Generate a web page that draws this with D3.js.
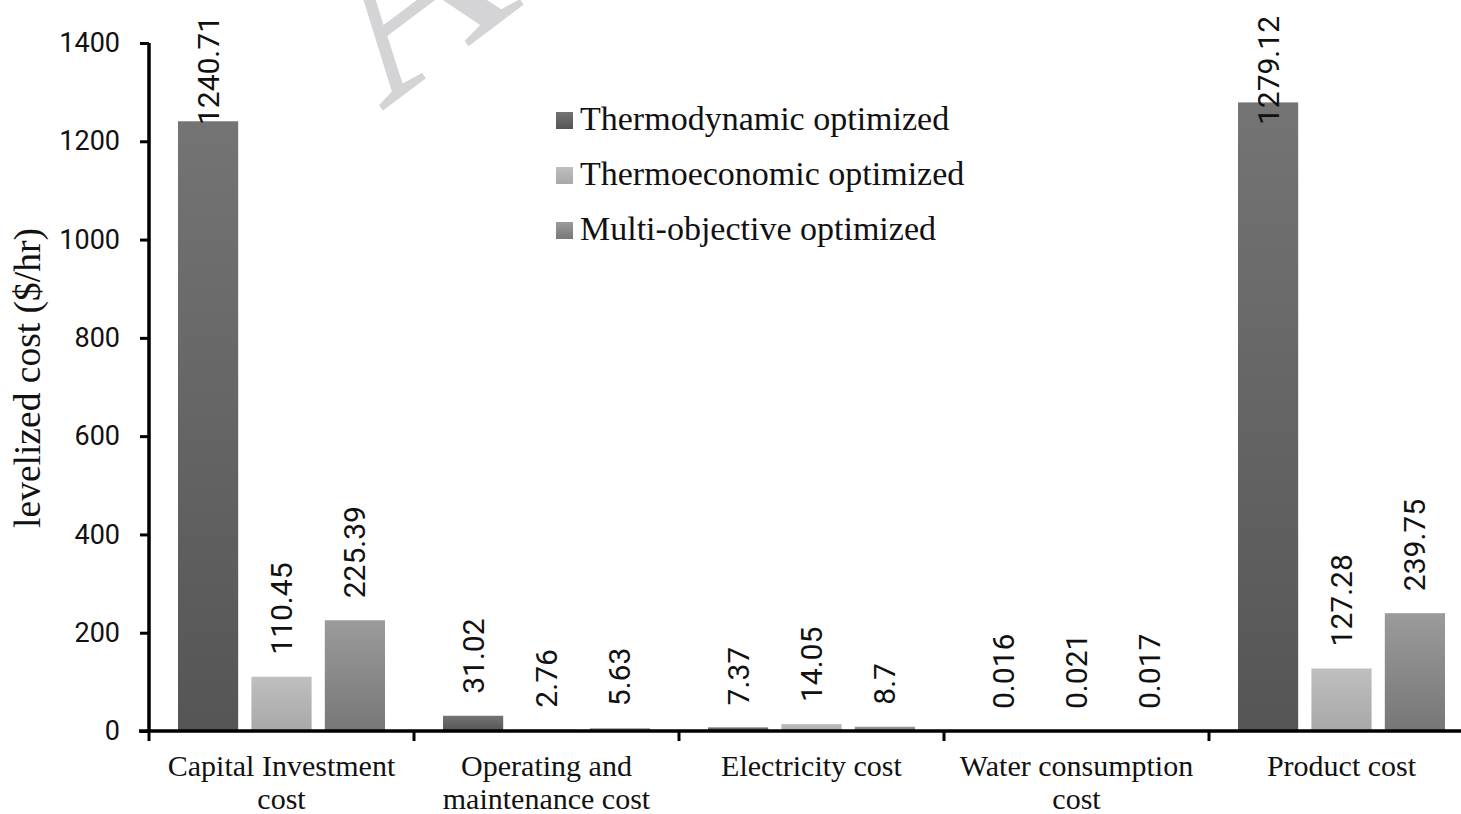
<!DOCTYPE html>
<html>
<head>
<meta charset="utf-8">
<script src="https://cdn.jsdelivr.net/npm/d3@7"></script>
<style>
html,body{margin:0;padding:0;background:#fff;}
svg{display:block;}
</style>
</head>
<body>
<svg id="chart" width="1461" height="814"></svg>
<script>
const categories = [
  ["Capital Investment", "cost"],
  ["Operating and", "maintenance cost"],
  ["Electricity cost"],
  ["Water consumption", "cost"],
  ["Product cost"]
];
const seriesNames = ["Thermodynamic optimized", "Thermoeconomic optimized", "Multi-objective optimized"];
const thermodynamic = [1240.71, 31.02, 7.37, 0.016, 1279.12];
const thermoeconomic = [110.45, 2.76, 14.05, 0.021, 127.28];
const multiObjective = [225.39, 5.63, 8.7, 0.017, 239.75];
const valueLabels = [
  ["1240.71", "31.02", "7.37", "0.016", "1279.12"],
  ["110.45", "2.76", "14.05", "0.021", "127.28"],
  ["225.39", "5.63", "8.7", "0.017", "239.75"]
];
const yTicks = [0, 200, 400, 600, 800, 1000, 1200, 1400];
const yTitle = "levelized cost ($/hr)";
const watermark = "ACCEPTED MANUSCRIPT";

const seriesValues = [thermodynamic, thermoeconomic, multiObjective];
const gradStops = [["#747474", "#555555"], ["#bfbfbf", "#a8a8a8"], ["#9b9b9b", "#777777"]];

const svg = d3.select("#chart");
const defs = svg.append("defs");
gradStops.forEach((g, i) => {
  const lg = defs.append("linearGradient").attr("id", "g" + i)
    .attr("x1", 0).attr("y1", 0).attr("x2", 0).attr("y2", 1);
  lg.append("stop").attr("offset", "0%").attr("stop-color", g[0]);
  lg.append("stop").attr("offset", "100%").attr("stop-color", g[1]);
});

// watermark
svg.append("text")
  .attr("transform", "translate(381,112) rotate(-37)")
  .attr("font-family", "Liberation Serif, Times New Roman, serif")
  .attr("font-size", 250)
  .attr("fill", "#d4d4d6")
  .text(watermark);

const pLeft = 149, pBottom = 731, pTop = 43, pRight = 1474;
const y = d3.scaleLinear().domain([0, 1400]).range([pBottom, pTop]);
const x0 = d3.scaleBand().domain(d3.range(categories.length)).range([pLeft, pRight]).padding(0);
const x1 = d3.scaleBand().domain(d3.range(seriesNames.length))
  .range([29, x0.bandwidth() - 29]).paddingInner(0.18).paddingOuter(0);

// bars
const groups = svg.append("g").selectAll("g").data(seriesValues).join("g")
  .attr("fill", (d, i) => `url(#g${i})`);
groups.each(function(vals, si) {
  d3.select(this).selectAll("rect").data(vals).join("rect")
    .attr("x", (v, ci) => x0(ci) + x1(si))
    .attr("width", x1.bandwidth())
    .attr("y", v => y(v))
    .attr("height", v => Math.max(0, pBottom - y(v)));
});

// value labels
const lblFont = "Roboto, 'Open Sans', sans-serif";
seriesValues.forEach((vals, si) => {
  vals.forEach((v, ci) => {
    const cx = x0(ci) + x1(si) + x1.bandwidth() / 2;
    const t = svg.append("text")
      .attr("font-family", lblFont).attr("font-size", 30).attr("fill", "#111")
      .attr("text-anchor", "start").attr("dy", "0.35em")
      .text(valueLabels[si][ci]);
    const len = t.node().getComputedTextLength();
    let start = y(v) - 22;
    if (start - len < 16) start = 16 + len;
    t.attr("transform", `translate(${cx},${start}) rotate(-90)`);
  });
});

// y axis
const yAxis = svg.append("g").attr("transform", `translate(${pLeft},0)`)
  .call(d3.axisLeft(y).tickValues(yTicks).tickSize(9).tickPadding(20).tickFormat(d3.format("d")));
yAxis.select(".domain").attr("stroke", "#000").attr("stroke-width", 3.5).attr("d", `M0,${pTop}V${pBottom}`);
yAxis.selectAll(".tick line").attr("stroke", "#000").attr("stroke-width", 3);
yAxis.selectAll(".tick text").attr("font-family", lblFont).attr("font-size", 27).attr("fill", "#111");

// x axis
const xg = svg.append("g").attr("transform", `translate(0,${pBottom})`);
xg.append("line").attr("x1", pLeft - 10).attr("x2", 1461).attr("y1", 0).attr("y2", 0)
  .attr("stroke", "#000").attr("stroke-width", 3.5);
xg.selectAll("line.tk").data(d3.range(categories.length)).join("line").attr("class", "tk")
  .attr("x1", i => x0(i)).attr("x2", i => x0(i)).attr("y1", 0).attr("y2", 10)
  .attr("stroke", "#000").attr("stroke-width", 3);
const serif = "'Liberation Serif', 'Times New Roman', serif";
categories.forEach((lines, ci) => {
  const t = xg.append("text").attr("font-family", serif).attr("font-size", 30).attr("fill", "#111")
    .attr("text-anchor", "middle");
  lines.forEach((ln, k) => {
    t.append("tspan").attr("x", x0(ci) + x0.bandwidth() / 2).attr("y", 45 + k * 33).text(ln);
  });
});

// y title
svg.append("text").attr("transform", "translate(40,378) rotate(-90)")
  .attr("text-anchor", "middle").attr("font-family", serif).attr("font-size", 37.5).attr("fill", "#111")
  .text(yTitle);

// legend
const lgd = svg.append("g");
seriesNames.forEach((n, i) => {
  const cy = 120 + i * 55;
  lgd.append("rect").attr("x", 556).attr("y", cy - 8).attr("width", 17).attr("height", 17)
    .attr("fill", `url(#g${i})`);
  lgd.append("text").attr("x", 580).attr("y", cy + 10).attr("font-family", serif)
    .attr("font-size", 34).attr("fill", "#111").text(n);
});
</script>
</body>
</html>
